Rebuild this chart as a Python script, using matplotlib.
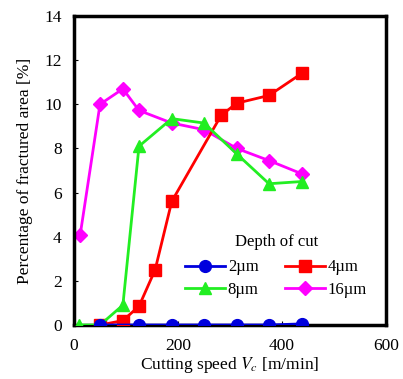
import matplotlib.pyplot as plt

plt.rcParams['font.family'] = 'Liberation Serif'
plt.rcParams['mathtext.fontset'] = 'stix'

# cutting speed [m/min] and fractured area [%]
speed_2um = [50, 125, 188, 250, 313, 375, 438]
area_2um = [0, 0, 0, 0, 0, 0, 0.05]

speed_4um = [50, 94, 125, 156, 188, 283, 313, 375, 438]
area_4um = [0, 0.2, 0.85, 2.5, 5.6, 9.5, 10.05, 10.4, 11.4]

speed_8um = [10, 50, 94, 125, 188, 250, 313, 375, 438]
area_8um = [0, 0, 0.9, 8.1, 9.35, 9.15, 7.75, 6.4, 6.5]

speed_16um = [12, 50, 94, 125, 188, 250, 313, 375, 438]
area_16um = [4.1, 10.0, 10.7, 9.72, 9.15, 8.85, 8.0, 7.45, 6.85]

fig = plt.figure(figsize=(4.03, 3.79), dpi=100)
ax = fig.add_axes([74 / 403, 1 - 325 / 379, 312 / 403, 309 / 379])

l2, = ax.plot(speed_2um, area_2um, color='#0000dd', marker='o', markersize=8.5, lw=2, label='2µm', zorder=5)
l4, = ax.plot(speed_4um, area_4um, color='#ff0000', marker='s', markersize=8.5, lw=2, label='4µm', zorder=3)
l8, = ax.plot(speed_8um, area_8um, color='#22ee22', marker='^', markersize=8.5, lw=2, label='8µm', zorder=4)
l16, = ax.plot(speed_16um, area_16um, color='#ff00ff', marker='D', markersize=7.5, lw=2, label='16µm', zorder=2)

ax.set_xlim(0, 600)
ax.set_ylim(0, 14)
ax.set_xticks([0, 200, 400, 600])
ax.set_yticks(range(0, 15, 2))
ax.tick_params(direction='in', length=3, labelsize=12.5, pad=9)
for s in ax.spines.values():
    s.set_linewidth(2.5)

ax.set_xlabel('Cutting speed $V_c$ [m/min]', fontsize=12.5, labelpad=1)
ax.set_ylabel('Percentage of fractured area [%]', fontsize=12.5, labelpad=8)

# legend rows: 2, 4 / 8, 16 (columns fill first)
leg = ax.legend([l2, l8, l4, l16], ['2µm', '8µm', '4µm', '16µm'],
                title='Depth of cut', ncol=2, frameon=False, fontsize=12,
                title_fontsize=12, loc='lower left', bbox_to_anchor=(0.33, 0.06),
                handlelength=2.4, handletextpad=0.15, columnspacing=1.6,
                labelspacing=0.4, borderpad=0)
leg._legend_box.sep = 7

fig.savefig('out.png', dpi=100)
